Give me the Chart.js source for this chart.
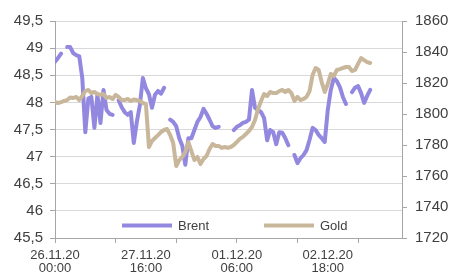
<!DOCTYPE html>
<html><head><meta charset="utf-8">
<script src="https://cdn.jsdelivr.net/npm/chart.js@4/dist/chart.umd.min.js"></script>
<style>html,body{margin:0;padding:0;background:#fff;overflow:hidden}#wrap{width:465px;height:273px;position:relative}</style>
</head><body><div id="wrap"><canvas id="c" width="465" height="273"></canvas></div>
<script>
// Series values (one value per time step, null = no quote)
const brent = [
  48.75, 48.82, 48.90, null, 49.02, 49.02, 48.91, 48.87, 48.85, 48.45,
  47.45, 48.07, 48.10, 47.53, 48.14, 47.62, 48.23, 47.86, 47.79, 47.77,
  null, 48.04, 47.91, 47.82, 47.77, 47.82, 47.25, 47.64, 47.95, 48.45,
  48.26, 48.15, 47.90, 48.14, 48.21, 48.16, 48.27, null, 47.68, 47.64,
  47.56, 47.34, 47.20, 46.85, 47.34, 47.34, 47.49, 47.64, 47.73, 47.88,
  47.79, 47.68, 47.56, 47.53, 47.55, null, null, null, null, 47.49,
  47.55, 47.58, 47.62, 47.64, 47.68, 48.23, 47.90, 47.86, 47.82, 47.71,
  47.30, 47.49, 47.45, 47.23, 47.45, 47.44, 47.34, 47.21, null, 47.03,
  46.88, 46.97, 47.03, 47.12, 47.31, 47.53, 47.49, 47.40, 47.34, 47.27,
  47.86, 48.23, 48.45, 48.39, 48.28, 48.10, 47.97, null, 48.19, 48.27,
  48.30, 48.17, 47.99, 48.12, 48.23
];
const gold = [
  1807.7, 1807.1, 1807.7, 1808.4, 1809.0, 1810.6, 1810.3, 1811.0, 1809.0, 1811.6,
  1814.8, 1815.5, 1813.5, 1814.2, 1812.9, 1812.3, 1812.9, 1810.3, 1811.0, 1809.7,
  1812.3, 1811.0, 1809.0, 1809.0, 1809.7, 1808.4, 1809.4, 1809.0, 1808.4, 1807.1,
  1806.4, 1778.7, 1782.6, 1784.5, 1786.4, 1788.4, 1789.7, 1790.3, 1786.4, 1781.3,
  1766.4, 1770.3, 1772.3, 1775.5, 1781.9, 1776.1, 1770.3, 1772.3, 1767.7, 1771.0,
  1772.9, 1777.4, 1780.6, 1779.4, 1779.4, 1778.1, 1778.7, 1778.1, 1778.7, 1780.0,
  1781.9, 1783.9, 1785.2, 1787.1, 1789.0, 1791.6, 1796.1, 1803.2, 1808.4, 1812.9,
  1811.6, 1814.2, 1813.5, 1813.5, 1814.8, 1815.5, 1814.2, 1815.5, 1813.5, 1808.4,
  1811.0, 1809.0, 1809.7, 1811.0, 1814.8, 1825.2, 1829.7, 1828.4, 1820.6, 1814.2,
  1819.4, 1825.8, 1824.5, 1828.4, 1829.0, 1829.7, 1830.3, 1830.3, 1827.7, 1828.4,
  1832.3, 1836.1, 1834.8, 1833.5, 1832.9
];
const seriesNames = ['Brent', 'Gold'];
// Tick labels on the time axis and the time step each belongs to
const xTickLabels = [['26.11.20','00:00'], ['27.11.20','16:00'], ['01.12.20','06:00'], ['02.12.20','18:00']];
const xTickLabelAt = [0, 30, 60, 90];
const xTickMarkEvery = 20;
const xAxisSteps = 114.5;
const leftAxis = {min: 45.5, max: 49.5, step: 0.5};
const rightAxis = {min: 1720, max: 1860, step: 20};

const FONT = '"Liberation Sans", Arial, Helvetica, sans-serif';
const TXT = '#404040';
const AXIS = '#a6a6a6';
const GRID = '#d9d9d9';
const C_BRENT = 'rgb(146,136,224)';
const C_GOLD = 'rgb(201,183,156)';

const toPts = arr => arr.map((v, i) => ({x: i, y: v}));

const insideLegend = {
  id: 'insideLegend',
  afterDraw(chart) {
    const ctx = chart.ctx, ca = chart.chartArea;
    const y = ca.bottom - 12.5;
    const items = [
      {ds: chart.data.datasets[0], x0: ca.left + 67},
      {ds: chart.data.datasets[1], x0: ca.left + 209}
    ];
    ctx.save();
    ctx.font = '13px ' + FONT;
    ctx.textBaseline = 'middle';
    ctx.textAlign = 'left';
    items.forEach(it => {
      ctx.strokeStyle = it.ds.borderColor;
      ctx.lineWidth = 4;
      ctx.lineCap = 'butt';
      ctx.beginPath();
      ctx.moveTo(it.x0, y);
      ctx.lineTo(it.x0 + 50, y);
      ctx.stroke();
      ctx.fillStyle = TXT;
      ctx.fillText(it.ds.label, it.x0 + 56, y + 0.5);
    });
    ctx.restore();
  }
};

const fmtLeft = v => {
  const r = Math.round(v * 10) / 10;
  return Number.isInteger(r) ? String(r) : r.toFixed(1).replace('.', ',');
};

new Chart(document.getElementById('c'), {
  type: 'line',
  data: {
    datasets: [
      {label: seriesNames[0], data: toPts(brent), yAxisID: 'y', borderColor: C_BRENT, backgroundColor: C_BRENT,
       borderWidth: 4, pointRadius: 0, tension: 0, spanGaps: false, order: 1,
       borderJoinStyle: 'round', borderCapStyle: 'round'},
      {label: seriesNames[1], data: toPts(gold), yAxisID: 'y2', borderColor: C_GOLD, backgroundColor: C_GOLD,
       borderWidth: 4, pointRadius: 0, tension: 0, spanGaps: false, order: 0,
       borderJoinStyle: 'round', borderCapStyle: 'round'}
    ]
  },
  options: {
    responsive: false,
    animation: false,
    devicePixelRatio: 1,
    layout: {padding: {top: 21, left: 0, right: 0, bottom: 0}},
    plugins: {legend: {display: false}, tooltip: {enabled: false}, title: {display: false}},
    scales: {
      x: {
        type: 'linear', min: 0, max: xAxisSteps, position: 'bottom',
        afterBuildTicks(s) {
          const t = [];
          for (let v = 0; v <= xAxisSteps; v += 10) t.push({value: v});
          s.ticks = t;
        },
        afterFit(s) { s.height = 35; },
        grid: {
          drawOnChartArea: false, drawTicks: true, tickLength: 5,
          color: c => (c.tick && c.tick.value % xTickMarkEvery === 0) ? AXIS : 'rgba(0,0,0,0)',
          lineWidth: 1
        },
        border: {display: true, color: AXIS, width: 1},
        ticks: {
          autoSkip: false, maxRotation: 0, minRotation: 0, padding: 6,
          color: TXT, font: {family: FONT, size: 13, lineHeight: 1.02},
          callback: v => { const k = xTickLabelAt.indexOf(v); return k >= 0 ? xTickLabels[k] : ''; }
        }
      },
      y: {
        type: 'linear', position: 'left', min: leftAxis.min, max: leftAxis.max,
        afterFit(s) { s.width = 55; },
        grid: {color: GRID, lineWidth: 1, tickColor: AXIS, tickLength: 5},
        border: {display: true, color: AXIS, width: 1},
        ticks: {stepSize: leftAxis.step, padding: 7, color: TXT, font: {family: FONT, size: 15}, callback: fmtLeft}
      },
      y2: {
        type: 'linear', position: 'right', min: rightAxis.min, max: rightAxis.max,
        afterFit(s) { s.width = 63; },
        grid: {drawOnChartArea: false, color: AXIS, tickColor: AXIS, tickLength: 5},
        border: {display: true, color: AXIS, width: 1},
        ticks: {stepSize: rightAxis.step, padding: 8, color: TXT, font: {family: FONT, size: 15},
                callback: v => String(Math.round(v))}
      }
    }
  },
  plugins: [insideLegend]
});
</script>
</body></html>
